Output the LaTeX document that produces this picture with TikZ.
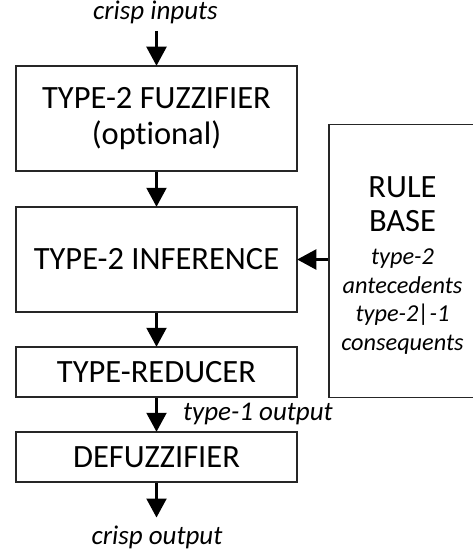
\documentclass[tikz,border=0pt]{standalone}
\usepackage{fontspec}
\setmainfont{Carlito}[Ligatures={NoCommon}]
\usetikzlibrary{arrows.meta}

\tikzset{
  block/.style={draw=black!85, line width=1.5pt, minimum width=281pt,
    inner sep=0pt, align=center, font=\fontsize{32.5}{36}\selectfont},
  flow/.style={draw=black, line width=2.2pt,
    -{Triangle[width=20pt,length=19pt]}, shorten >=-0.5pt},
  note/.style={inner sep=0pt, font=\fontsize{27}{30}\selectfont\itshape},
  rulehead/.style={inner sep=0pt, anchor=base, font=\fontsize{32.5}{36}\selectfont},
  ruleline/.style={inner sep=0pt, anchor=base, font=\fontsize{24.3}{29}\selectfont\itshape},
}

\begin{document}
\begin{tikzpicture}[x=1pt,y=1pt]
  \useasboundingbox (0,0) rectangle (473,-556);

  % processing chain
  \node[block, minimum height=105pt] (fuzz) at (156.5,-118.5)
    {TYPE-2 FUZZIFIER\\(optional)};
  \node[block, minimum height=105pt] (inf) at (156.5,-259.5)
    {TYPE-2 INFERENCE};
  \node[block, minimum height=50pt] (red) at (156.5,-372)
    {TYPE-REDUCER};
  \node[block, minimum height=50pt] (defz) at (156.5,-457)
    {DEFUZZIFIER};

  % rule base, running off the right side
  \node[block, minimum width=146pt, minimum height=273pt] (rule)
    at (402,-261.2) {};
  \node[rulehead] (rA) at (402.5,-197) {RULE};
  \node[rulehead] (rB) at (402.5,-231.5) {BASE};
  \node[ruleline] (rC) at (402.5,-264.5) {type-2};
  \node[ruleline] (rD) at (402.5,-293) {antecedents};
  \node[ruleline] (rE) at (402.5,-321.7) {type-2|-1};
  \node[ruleline] (rF) at (402.5,-350.3) {consequents};

  % free ends of the chain
  \coordinate (inp) at (156.5,-31);
  \coordinate (outp) at (156.5,-517);

  \node[note, anchor=base] (inlabel) at (155.5,-20) {crisp inputs};
  \node[note, anchor=base west] (midlabel) at (183,-420.5) {type-1 output};
  \node[note, anchor=base] (outlabel) at (157,-544) {crisp output};

  % connectors
  \draw[flow] (inp) -- (fuzz.north);
  \draw[flow] (fuzz.south) -- (inf.north);
  \draw[flow] (inf.south) -- (red.north);
  \draw[flow] (red.south) -- (defz.north);
  \draw[flow] (defz.south) -- (outp);
  \draw[flow] (rule.west |- inf.east) -- (inf.east);
\end{tikzpicture}
\end{document}
